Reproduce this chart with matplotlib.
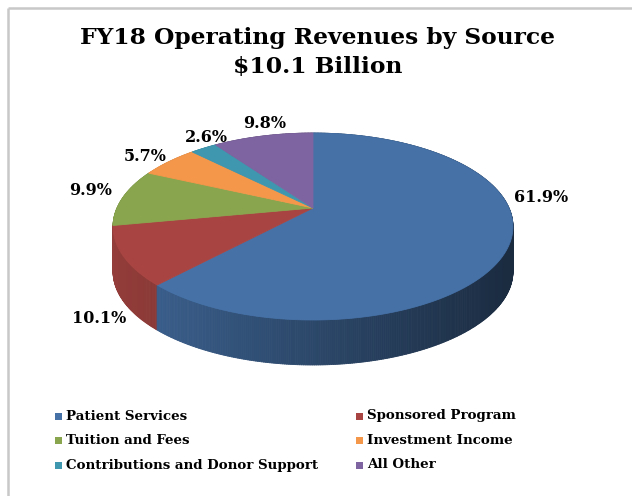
import numpy as np
import matplotlib
matplotlib.use("Agg")
import matplotlib.pyplot as plt
from matplotlib.patches import Polygon, Rectangle
from matplotlib.collections import PolyCollection
from matplotlib.colors import to_rgb

# ---------------- data ----------------
categories = ["Patient Services", "Sponsored Program", "Tuition and Fees",
              "Investment Income", "Contributions and Donor Support", "All Other"]
shares = [61.9, 10.1, 9.9, 5.7, 2.6, 9.8]
pct_labels = ["61.9%", "10.1%", "9.9%", "5.7%", "2.6%", "9.8%"]
title_lines = ["FY18 Operating Revenues by Source", "$10.1 Billion"]

# ---------------- style ----------------
colors = ["#4571A7", "#A84542", "#89A54E", "#F4974A", "#3E97AF", "#7E64A0"]
label_nudge = [(31, -46), (-24, 62), (-33, -7), (-24, -5), (3, -11), (2, -13)]
FONT = "DejaVu Serif"

W, H = 632, 496
fig = plt.figure(figsize=(W / 100, H / 100), dpi=100)
ax = fig.add_axes([0, 0, 1, 1])
ax.set_xlim(0, W)
ax.set_ylim(H, 0)
ax.axis("off")

# chart frame (top and left edges visible)
ax.plot([8, W + 5], [8, 8], color="#C8C8C8", lw=1.8, solid_capstyle="butt")
ax.plot([8, 8], [8, H + 5], color="#C8C8C8", lw=1.8, solid_capstyle="butt")

# perspective projection of the pie disk
CX, CY = 313, 208     # apex on screen
A, B, K = 196, 89.8, 0.198
DEPTH = 45


def proj(phi_deg, r=1.0):
    th = np.deg2rad(90 - np.asarray(phi_deg))
    u, v = r * np.cos(th), r * np.sin(th)
    w = 1 + K * v
    return CX + A * u / w, CY - B * v / w


total = sum(shares)
bounds = np.concatenate([[0], np.cumsum(shares)]) / total * 360.0

# side walls, painted back to front
quads, fcs, keys = [], [], []
for i, col in enumerate(colors):
    n = max(int((bounds[i + 1] - bounds[i]) * 2), 4)
    phis = np.linspace(bounds[i], bounds[i + 1], n)
    xs, ys = proj(phis)
    base = np.array(to_rgb(col))
    for j in range(len(phis) - 1):
        q = [(xs[j], ys[j]), (xs[j + 1], ys[j + 1]),
             (xs[j + 1], ys[j + 1] + DEPTH), (xs[j], ys[j] + DEPTH)]
        xm = (xs[j] + xs[j + 1]) / 2
        f = float(np.clip(0.88 - 0.5 * (xm - 113) / 400, 0.3, 1.0))
        quads.append(q)
        fcs.append(tuple(base * f))
        keys.append((ys[j] + ys[j + 1]) / 2)
order = np.argsort(keys)
quads = [quads[k] for k in order]
fcs = [fcs[k] for k in order]
ax.add_collection(PolyCollection(quads, facecolors=fcs, edgecolors=fcs, linewidths=0.6))

# top faces
for i, col in enumerate(colors):
    n = max(int((bounds[i + 1] - bounds[i]) * 2), 4)
    phis = np.linspace(bounds[i], bounds[i + 1], n)
    xs, ys = proj(phis)
    pts = [(CX, CY)] + list(zip(xs, ys))
    ax.add_patch(Polygon(pts, closed=True, facecolor=col, edgecolor=col, lw=0.6))

# percentage labels
for i, lab in enumerate(pct_labels):
    mid = (bounds[i] + bounds[i + 1]) / 2
    x, y = proj(mid)
    dx, dy = label_nudge[i]
    ax.text(x + dx, y + dy, lab, ha="center", va="center", fontsize=11.5,
            fontweight="bold", family=FONT, color="black")

# title
ax.text(318, 38, title_lines[0], ha="center", va="center", fontsize=16.8,
        fontweight="bold", family=FONT)
ax.text(318, 67, title_lines[1], ha="center", va="center", fontsize=16.8,
        fontweight="bold", family=FONT)

# legend (row-wise, two columns)
for i, (cat, col) in enumerate(zip(categories, colors)):
    row, c = divmod(i, 2)
    lx = [55, 356][c]
    ly = 416 + 24.5 * row
    ax.add_patch(Rectangle((lx, ly - 3.5), 7, 7, facecolor=col, edgecolor="none"))
    ax.text(lx + 11, ly, cat, ha="left", va="center", fontsize=9.6,
            fontweight="bold", family=FONT)

fig.savefig("out.png", dpi=100)
